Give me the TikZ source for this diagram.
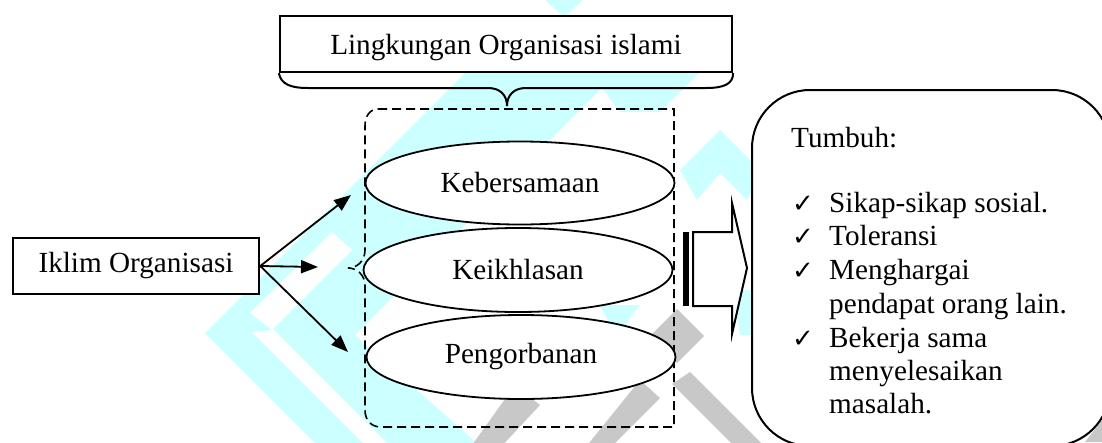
\documentclass[tikz,border=0pt]{standalone}
\usepackage{fontspec}
\setmainfont{Liberation Serif}
\newfontfamily\symfont{DejaVu Sans}
\usetikzlibrary{arrows.meta,shapes.geometric}
\definecolor{wmcyan}{RGB}{204,255,255}
\definecolor{wmgray}{RGB}{200,200,200}
\tikzset{
  txt/.style={font=\fontsize{29.2}{33.5}\selectfont, inner sep=0pt},
  boxnode/.style={draw, line width=2pt, fill=white, rectangle, inner sep=0pt},
  ovalnode/.style={draw, line width=1.8pt, fill=white, ellipse, inner sep=0pt,
     minimum width=309pt, minimum height=83pt, font=\fontsize{29.2}{33.5}\selectfont},
  conn/.style={line width=1.8pt, -{Triangle[length=17pt,width=13pt]}},
  chk/.style={font=\symfont\fontsize{26}{26}\selectfont, inner sep=0pt, anchor=base west},
  item/.style={txt, anchor=base west}
}
\begin{document}
\begin{tikzpicture}[x=1pt,y=-1pt]
\useasboundingbox (0,0) rectangle (1102,442);
% ---------- watermark (background) ----------
\begin{scope}
  \fill[wmcyan] (470,68) -- (205,333) -- (318,446) -- (480,446) -- (355,335) -- (620,70) -- cycle;
  \fill[white] (252,332) -- (366,446) -- (390,446) -- (274,330) -- cycle;
  \fill[white] (250,313) -- (272,330) -- (352,250) -- (332,232) -- cycle;
  \fill[wmcyan] (545,0) -- (583,0) -- (564,17) -- cycle;
  \fill[wmcyan] (590,72) -- (700,72) -- (660,112) -- (620,112) -- cycle;
  \fill[wmcyan] (720,130) -- (762,172) -- (747,200) -- (720,173) -- (697,200) -- (680,170) -- cycle;
  \fill[wmcyan] (733,290) -- (752,290) -- (752,335) -- (740,335) -- cycle;
  \fill[wmcyan] (600,305) -- (640,305) -- (625,325) -- (610,325) -- cycle;
  \fill[wmgray] (677,309) -- (704,336) -- (677,363) -- (650,336) -- cycle;
  \fill[wmgray] (690,372) -- (770,452) -- (740,452) -- (672,384) -- cycle;
  \fill[wmgray] (640,380) -- (660,398) -- (610,448) -- (585,448) -- cycle;
  \fill[wmgray] (515,385) -- (540,405) -- (500,448) -- (470,448) -- cycle;
  \fill[wmgray] (1085,442) -- (1102,420) -- (1102,442) -- cycle;
\end{scope}
% ---------- dashed group ----------
\draw[line width=1.6pt, dash pattern=on 9pt off 5pt]
  (378,109) -- (674,109) -- (674,427) -- (381,427)
  .. controls (371,427) and (365,420) .. (365,410) -- (365,286)
  .. controls (365,274) and (356,268) .. (348,268)
  .. controls (356,268) and (365,262) .. (365,250) -- (365,126)
  .. controls (365,116) and (370,109) .. (378,109);
% ---------- top box with brace ----------
\node[boxnode, minimum width=452pt, minimum height=56pt, line width=2.3pt] (lingk) at (506,44) {};
\node[txt, anchor=base] (lingktxt) at (506,54) {Lingkungan Organisasi islami};
\draw[line width=2pt] (lingk.south west)
  .. controls (281,84) and (290,88) .. (308,88) -- (488,88)
  .. controls (500,88) and (507,95) .. (507,106)
  .. controls (507,95) and (514,88) .. (526,88) -- (706,88)
  .. controls (724,88) and (733,84) .. (lingk.south east);
% ---------- ellipses ----------
\node[ovalnode] (keb) at (520,183) {Kebersamaan};
\node[ovalnode, minimum height=84pt] (keik) at (518,270) {Keikhlasan};
\node[ovalnode, minimum height=84pt] (peng) at (521,357) {Pengorbanan};
% ---------- left box and arrows ----------
\node[boxnode, minimum width=246.5pt, minimum height=56pt, font=\fontsize{29.2}{33.5}\selectfont] (iklim) at (136,266) {Iklim Organisasi};
\coordinate (a1) at (351,195);
\coordinate (a2) at (318,267);
\coordinate (a3) at (348,352);
\draw[conn] (iklim.east) -- (a1);
\draw[conn] (iklim.east) -- (a2);
\draw[conn] (iklim.east) -- (a3);
% ---------- striped block arrow ----------
\fill (683,232) rectangle (689,306);
\draw[line width=2pt, fill=white, line join=miter]
  (693,232) -- (732,232) -- (732,203) -- (747,268) -- (732,334) -- (732,306) -- (693,306) -- cycle;
\draw[line width=2.6pt] (693,231) -- (693,307);
% ---------- right rounded box ----------
\draw[line width=2pt, fill=white, rounded corners=58pt] (752,90) rectangle (1110,446);
\node[item] (t0) at (791,147) {Tumbuh:};
\node[chk] (c1) at (792,212) {✓};
\node[item] (t1) at (829,212) {Sikap-sikap sosial.};
\node[chk] (c2) at (792,245) {✓};
\node[item] (t2) at (829,245) {Toleransi};
\node[chk] (c3) at (792,279) {✓};
\node[item] (t3) at (829,279) {Menghargai};
\node[item] (t4) at (829,313) {pendapat orang lain.};
\node[chk] (c5) at (792,347) {✓};
\node[item] (t5) at (829,347) {Bekerja sama};
\node[item] (t6) at (829,380) {menyelesaikan};
\node[item] (t7) at (829,413) {masalah.};
\end{tikzpicture}
\end{document}
